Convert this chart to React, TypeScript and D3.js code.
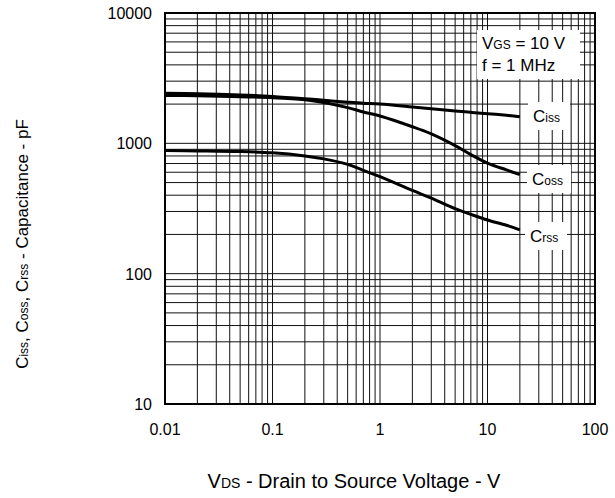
import * as d3 from 'd3';

// V_DS sample points (V)
const vds = [0.01, 0.02, 0.05, 0.1, 0.2, 0.3, 0.5, 0.7, 1, 2, 3, 5, 7, 10, 15, 20];
// capacitances (pF)
const ciss = [2420, 2400, 2350, 2290, 2200, 2140, 2070, 2030, 2000, 1900, 1840, 1770, 1730, 1690, 1640, 1600];
const coss = [2330, 2320, 2280, 2240, 2160, 2060, 1880, 1740, 1620, 1340, 1180, 960, 820, 705, 625, 575];
const crss = [880, 875, 865, 845, 800, 760, 690, 620, 555, 435, 380, 315, 285, 258, 235, 217];

const xTicks = [0.01, 0.1, 1, 10, 100];
const yTicks = [10, 100, 1000, 10000];
const curveNames = ['iss', 'oss', 'rss'];

const W = 615;
const H = 498;
const FONT = 'Liberation Sans, Arial, sans-serif';

export default function App() {
  const x = d3.scaleLog().domain([0.01, 100]).range([165, 595]);
  const y = d3.scaleLog().domain([10, 10000]).range([404, 13]);

  const line = d3
    .line<[number, number]>()
    .x((d) => x(d[0]))
    .y((d) => y(d[1]))
    .curve(d3.curveCatmullRom.alpha(0.5));

  // log grid: 1..9 in each decade
  const gridX: number[] = [];
  for (let d = -2; d < 2; d++) for (let k = 1; k < 10; k++) gridX.push(k * Math.pow(10, d));
  const gridY: number[] = [];
  for (let d = 1; d < 4; d++) for (let k = 1; k < 10; k++) gridY.push(k * Math.pow(10, d));

  const series = [ciss, coss, crss];
  // label boxes next to the curve ends
  const labelBoxes = [
    { x: 528, y: 102, w: 42, h: 28 },
    { x: 527, y: 165, w: 44, h: 28 },
    { x: 525, y: 222, w: 42, h: 28 },
  ];

  return (
    <svg width={W} height={H} style={{ position: 'absolute', left: 0, top: 0, background: '#fff' }} fontFamily={FONT}>
      <g stroke="#111" strokeWidth={1}>
        {gridX.map((v, i) => (
          <line key={'gx' + i} x1={x(v)} x2={x(v)} y1={y(10)} y2={y(10000)} />
        ))}
        {gridY.map((v, i) => (
          <line key={'gy' + i} x1={x(0.01)} x2={x(100)} y1={y(v)} y2={y(v)} />
        ))}
      </g>
      <rect x={x(0.01)} y={y(10000)} width={x(100) - x(0.01)} height={y(10) - y(10000)} fill="none" stroke="#000" strokeWidth={2} />

      {series.map((s, i) => (
        <path
          key={'s' + i}
          d={line(vds.map((v, j) => [v, s[j]] as [number, number])) || ''}
          fill="none"
          stroke="#000"
          strokeWidth={3}
        />
      ))}

      {/* condition box */}
      <rect x={477} y={30} width={103} height={49} fill="#fff" />
      <text x={482} y={49} fontSize={17}>
        V<tspan fontSize={12}>GS</tspan> = 10 V
      </text>
      <text x={482} y={71} fontSize={17}>
        f = 1 MHz
      </text>

      {curveNames.map((n, i) => (
        <g key={'l' + i}>
          <rect x={labelBoxes[i].x} y={labelBoxes[i].y} width={labelBoxes[i].w} height={labelBoxes[i].h} fill="#fff" />
          <text x={labelBoxes[i].x + 5} y={labelBoxes[i].y + 20} fontSize={17}>
            C<tspan fontSize={12}>{n}</tspan>
          </text>
        </g>
      ))}

      {xTicks.map((v, i) => (
        <text key={'xt' + i} x={x(v)} y={435} fontSize={16} textAnchor="middle">
          {String(v)}
        </text>
      ))}
      {yTicks.map((v, i) => (
        <text key={'yt' + i} x={152} y={y(v) + 6} fontSize={16} textAnchor="end">
          {String(v)}
        </text>
      ))}

      <text x={354} y={488} fontSize={20} textAnchor="middle">
        V<tspan fontSize={14}>DS</tspan> - Drain to Source Voltage - V
      </text>
      <text transform="translate(28,244) rotate(-90)" fontSize={17} textAnchor="middle">
        C<tspan fontSize={12}>iss</tspan>, C<tspan fontSize={12}>oss</tspan>, C<tspan fontSize={12}>rss</tspan> - Capacitance - pF
      </text>
    </svg>
  );
}
